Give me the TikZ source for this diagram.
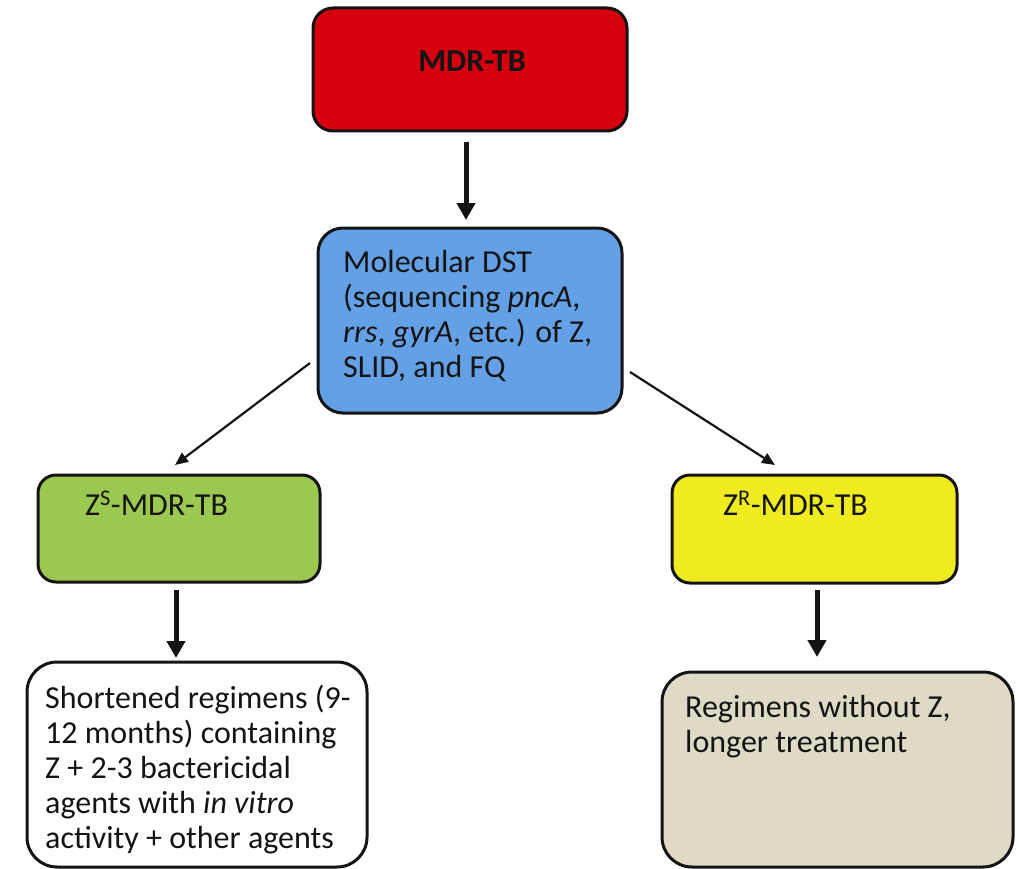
\documentclass[tikz,border=0pt]{standalone}
\usepackage{fontspec}
\setmainfont{Carlito}
\usetikzlibrary{arrows.meta}

\definecolor{edge}{RGB}{20,20,20}
\definecolor{mdrred}{RGB}{215,0,15}
\definecolor{dstblue}{RGB}{100,160,230}
\definecolor{zsgreen}{RGB}{155,200,80}
\definecolor{zryellow}{RGB}{240,235,30}
\definecolor{regbeige}{RGB}{222,218,198}

\begin{document}
\begin{tikzpicture}[x=1pt,y=-1pt,
  panel/.style={draw=edge, line width=3pt, inner sep=0pt, outer sep=0pt},
  txt/.style={font=\fontsize{32}{35}\selectfont, text=edge, align=left,
              anchor=base west, inner sep=0pt},
  bigarrow/.style={draw=edge, line width=5pt, -{Triangle[width=18pt,length=17pt]}},
  thinarrow/.style={draw=edge, line width=2.2pt, -{Triangle[width=11pt,length=13pt]}}
]
\useasboundingbox (0,0) rectangle (1019,869);

% boxes
\node[panel, fill=mdrred, rounded corners=20pt,
      minimum width=314pt, minimum height=123pt] (mdr) at (470,69.5) {};
\node[panel, fill=dstblue, rounded corners=25pt,
      minimum width=304pt, minimum height=185pt] (dst) at (470,320.5) {};
\node[panel, fill=zsgreen, rounded corners=18pt,
      minimum width=282pt, minimum height=107pt] (zs) at (179,528.5) {};
\node[panel, fill=zryellow, rounded corners=18pt,
      minimum width=285pt, minimum height=108pt] (zr) at (814.5,529) {};
\node[panel, fill=white, rounded corners=30pt,
      minimum width=340pt, minimum height=205pt] (short) at (197,764.5) {};
\node[panel, fill=regbeige, rounded corners=30pt,
      minimum width=351pt, minimum height=195pt] (reg) at (837.5,769.5) {};

% texts (multi-line texts are placed by the baseline of their last line)
\node[txt, anchor=base, font=\fontsize{32}{35}\selectfont\bfseries] (mdrtext) at (472,72) {MDR-TB};
\node[txt] (dsttext) at (343,377)
  {Molecular DST\\(sequencing \textit{pncA},\\\textit{rrs}, \textit{gyrA}, etc.) of Z,\\SLID, and FQ};
\node[txt] (zstext) at (85,515) {Z\textsuperscript{S}-MDR-TB};
\node[txt] (zrtext) at (723,515) {Z\textsuperscript{R}-MDR-TB};
\node[txt] (shorttext) at (45,848)
  {Shortened regimens (9-\\12 months) containing\\Z + 2-3 bactericidal\\agents with \textit{in vitro}\\activity + other agents};
\node[txt] (regtext) at (685,752) {Regimens without Z,\\longer treatment};

% connectors
\draw[bigarrow] ([shift={(-4,11)}]mdr.south) -- ([shift={(-4,-8)}]dst.north);
\draw[thinarrow] ([shift={(-8,42.5)}]dst.west) -- ([shift={(-4,-10)}]zs.north);
\draw[thinarrow] ([shift={(8,51.5)}]dst.east) -- ([shift={(-39.5,-10)}]zr.north);
\draw[bigarrow] ([shift={(-3,8)}]zs.south) -- ([shift={(-21,-4)}]short.north);
\draw[bigarrow] ([shift={(2.5,7)}]zr.south) -- ([shift={(-20.5,-15)}]reg.north);
\end{tikzpicture}
\end{document}
